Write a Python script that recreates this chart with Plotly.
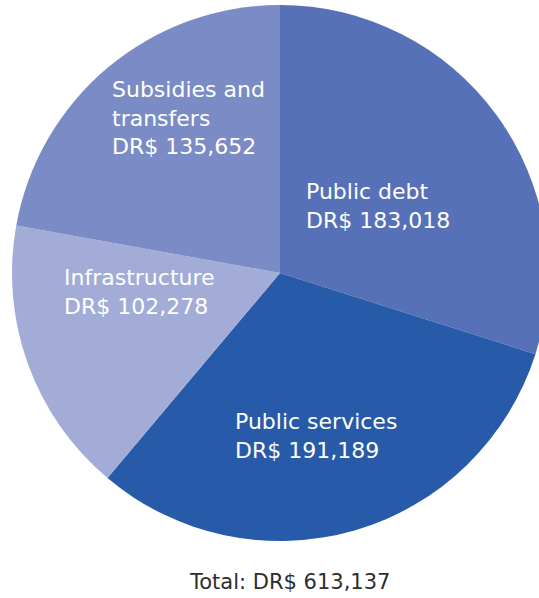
import plotly.graph_objects as go

# Spending breakdown (DR$)
categories = ["Public debt", "Public services", "Infrastructure", "Subsidies and\ntransfers"]
values = [183018, 191189, 102278, 135652]
colors = ["#5671b8", "#275ba9", "#a2acd7", "#7b8bc5"]
total_label = 613137

# Figure geometry (pixels)
W, H = 560, 598
L, R, T, B = 12, 12, 5, 57
PW, PH = W - L - R, H - T - B

# Left edge x and vertical middle y of each slice label block
label_pos = [(304, 206), (233, 436), (62, 292), (110, 118)]


def px_to_paper(x, y):
    return (x - L) / PW, 1 - (y - T) / PH


fig = go.Figure(
    go.Pie(
        labels=[c.replace("\n", " ") for c in categories],
        values=values,
        sort=False,
        direction="clockwise",
        rotation=0,
        marker=dict(colors=colors, line=dict(width=0)),
        textinfo="none",
        hoverinfo="label+value",
        showlegend=False,
    )
)

font_family = "DejaVu Sans, sans-serif"
for cat, val, (x, y) in zip(categories, values, label_pos):
    px, py = px_to_paper(x, y)
    fig.add_annotation(
        x=px, y=py, xref="paper", yref="paper",
        xanchor="left", yanchor="middle", align="left",
        text=cat.replace("\n", "<br>") + f"<br>DR$ {val:,}",
        showarrow=False,
        font=dict(family=font_family, size=22, color="white"),
    )

tx, ty = px_to_paper(289, 582)
fig.add_annotation(
    x=tx, y=ty, xref="paper", yref="paper",
    xanchor="center", yanchor="middle",
    text=f"Total: DR$ {total_label:,}",
    showarrow=False,
    font=dict(family=font_family, size=21, color="#2e2e2e"),
)

fig.update_layout(
    width=W, height=H,
    margin=dict(l=L, r=R, t=T, b=B),
    paper_bgcolor="white",
    plot_bgcolor="white",
)

fig.write_html(
    "out.html",
    post_script="document.documentElement.style.overflow='hidden';document.body.style.overflow='hidden';",
)
